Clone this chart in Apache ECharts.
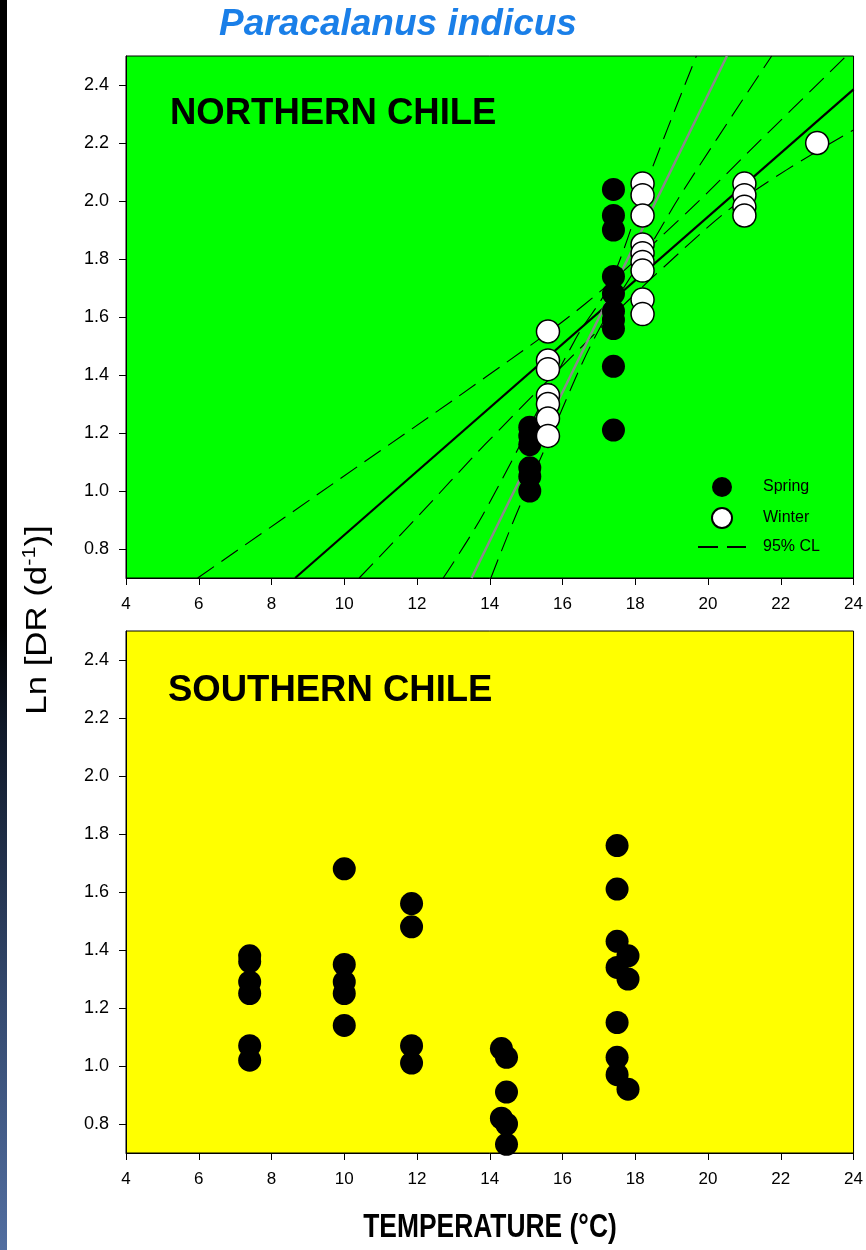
<!DOCTYPE html>
<html>
<head>
<meta charset="utf-8">
<script src="https://cdn.jsdelivr.net/npm/echarts@6/dist/echarts.min.js"></script>
<style>
  html, body { margin: 0; padding: 0; background: #ffffff; }
  #chart { width: 866px; height: 1250px; }
</style>
</head>
<body>
<div id="chart"></div>
<script>
// Paracalanus indicus — Ln development rate against temperature, two regions

// Axis ticks
const tempTicks = [4, 6, 8, 10, 12, 14, 16, 18, 20, 22, 24];
const rateTicks = [0.8, 1.0, 1.2, 1.4, 1.6, 1.8, 2.0, 2.2, 2.4];

// Northern Chile observations [temperature °C, Ln DR]
const northSpring = [
  [15.1, 1.22], [15.1, 1.19], [15.1, 1.16], [15.1, 1.08], [15.1, 1.05], [15.1, 1.00],
  [17.4, 2.04], [17.4, 1.95], [17.4, 1.90], [17.4, 1.74], [17.4, 1.68], [17.4, 1.62],
  [17.4, 1.59], [17.4, 1.56], [17.4, 1.43], [17.4, 1.21]
];
const northWinter = [
  [15.6, 1.55], [15.6, 1.45], [15.6, 1.42], [15.6, 1.33], [15.6, 1.30], [15.6, 1.25], [15.6, 1.19],
  [18.2, 2.06], [18.2, 2.02], [18.2, 1.95], [18.2, 1.85], [18.2, 1.82], [18.2, 1.79], [18.2, 1.76],
  [18.2, 1.66], [18.2, 1.61],
  [21.0, 2.06], [21.0, 2.02], [21.0, 1.98], [21.0, 1.95],
  [23.0, 2.20]
];

// Southern Chile observations [temperature °C, Ln DR]
const southSpring = [
  [7.4, 1.38], [7.4, 1.36], [7.4, 1.29], [7.4, 1.25], [7.4, 1.07], [7.4, 1.02],
  [10.0, 1.68], [10.0, 1.35], [10.0, 1.29], [10.0, 1.25], [10.0, 1.14],
  [11.85, 1.56], [11.85, 1.48], [11.85, 1.07], [11.85, 1.01],
  [14.32, 1.06], [14.46, 1.03], [14.46, 0.91], [14.32, 0.82], [14.46, 0.80], [14.46, 0.73],
  [17.5, 1.76], [17.5, 1.61], [17.5, 1.43], [17.5, 1.34], [17.5, 1.15], [17.5, 1.03], [17.5, 0.97],
  [17.8, 1.38], [17.8, 1.30], [17.8, 0.92]
];

// Regression lines (end points) and 95% confidence limits (points along each curve)
const fitAll = [[8.65, 0.70], [24.0, 2.385]];
const fitSteep = [[13.5, 0.70], [20.52, 2.50]];
const clAllUpper = [[5.97, 0.70], [9.86, 1.040], [13.89, 1.393], [16.61, 1.644], [19.22, 1.937], [21.42, 2.207], [23.8, 2.50]];
const clAllLower = [[10.41, 0.70], [11.97, 0.905], [13.89, 1.163], [16.93, 1.548], [18.67, 1.759], [21.0, 2.011], [24.0, 2.245]];
const clSteepUpper = [[12.72, 0.70], [13.82, 0.92], [16.38, 1.529], [17.30, 1.713], [18.40, 2.092], [19.68, 2.50]];
const clSteepLower = [[14.03, 0.70], [14.73, 0.92], [15.65, 1.184], [16.93, 1.540], [18.49, 1.862], [19.31, 2.034], [21.75, 2.50]];

const font = "'Liberation Sans', Arial, Helvetica, sans-serif";
const chart = echarts.init(document.getElementById('chart'), null, { renderer: 'canvas' });

function xAxisFor(gridIndex) {
  return {
    type: 'value', gridIndex, min: 4, max: 24, interval: 2,
    axisLine: { show: true, onZero: false, lineStyle: { color: '#000', width: 1 } },
    axisTick: { show: true, inside: false, length: 7, lineStyle: { color: '#000', width: 1 } },
    axisLabel: { show: true, margin: 18, fontSize: 17, color: '#000', fontFamily: font,
                 formatter: v => String(v) },
    splitLine: { show: false }
  };
}
function yAxisFor(gridIndex) {
  return {
    type: 'value', gridIndex, min: 0.7, max: 2.5,
    axisLine: { show: true, onZero: false, lineStyle: { color: '#000', width: 1 } },
    axisTick: { show: true, inside: false, length: 7, customValues: rateTicks, lineStyle: { color: '#000', width: 1 } },
    axisLabel: { show: true, margin: 17, fontSize: 18, color: '#000', fontFamily: font,
                 customValues: rateTicks, formatter: v => v.toFixed(1) },
    splitLine: { show: false }
  };
}

const clStyle = { color: '#000', width: 1.1, type: [20, 9] };
function clSeries(data) {
  return {
    name: '95% CL', type: 'line', xAxisIndex: 0, yAxisIndex: 0, data,
    smooth: 0.35, symbol: 'none', showSymbol: false, lineStyle: clStyle,
    itemStyle: { color: '#000' }, z: 2, silent: true, animation: false
  };
}

chart.setOption({
  animation: false,
  backgroundColor: '#ffffff',
  grid: [
    { left: 126, right: 12, top: 56, height: 522, show: true, backgroundColor: '#00ff00',
      borderColor: '#000', borderWidth: 1, containLabel: false },
    { left: 126, right: 12, top: 631, height: 522, show: true, backgroundColor: '#ffff00',
      borderColor: '#000', borderWidth: 1, containLabel: false }
  ],
  xAxis: [xAxisFor(0), xAxisFor(1)],
  yAxis: [yAxisFor(0), yAxisFor(1)],
  legend: {
    data: [
      'Spring', 'Winter',
      { name: '95% CL', itemStyle: { opacity: 0, color: 'rgba(0,0,0,0)', borderWidth: 0 } }
    ],
    orient: 'vertical', left: 697, top: 477,
    itemWidth: 48, itemHeight: 20, itemGap: 10, padding: 0,
    selectedMode: false,
    textStyle: { fontSize: 16, color: '#000', fontFamily: font, padding: [0, 0, 0, 12] }
  },
  graphic: [
    { type: 'rect', left: 0, top: 0, shape: { width: 7, height: 1250 }, silent: true,
      style: { fill: new echarts.graphic.LinearGradient(0, 0, 0, 1, [
        { offset: 0, color: '#000000' }, { offset: 0.5, color: '#000000' },
        { offset: 0.58, color: '#0f1828' }, { offset: 0.8, color: '#34496e' },
        { offset: 1, color: '#526ea0' }]) } },
    { type: 'text', x: 398, y: 25, silent: true,
      style: { text: 'Paracalanus indicus', fill: '#1a7fe8', font: "italic bold 37px " + font,
               textAlign: 'center', textVerticalAlign: 'middle' } },
    { type: 'text', x: 170, y: 114, silent: true, z: 10,
      style: { text: 'NORTHERN CHILE', fill: '#000', font: "bold 36.5px " + font,
               textAlign: 'left', textVerticalAlign: 'middle' } },
    { type: 'text', x: 168, y: 691, silent: true, z: 10,
      style: { text: 'SOUTHERN CHILE', fill: '#000', font: "bold 36.5px " + font,
               textAlign: 'left', textVerticalAlign: 'middle' } },
    { type: 'text', x: 490, y: 1228, scaleX: 0.8, silent: true,
      style: { text: 'TEMPERATURE (°C)', fill: '#000', font: "bold 33px " + font,
               textAlign: 'center', textVerticalAlign: 'middle' } },
    { type: 'text', x: 38, y: 620, rotation: Math.PI / 2, scaleX: 1.2, silent: true,
      style: {
        text: '{a|Ln [DR (d}{s|-1}{a|)]}',
        textAlign: 'center', textVerticalAlign: 'middle',
        rich: {
          a: { fontSize: 29, fontFamily: font, fill: '#000', color: '#000', lineHeight: 34 },
          s: { fontSize: 18, fontFamily: font, fill: '#000', color: '#000', verticalAlign: 'top', lineHeight: 34 }
        }
      } }
  ],
  series: [
    { name: 'fit', type: 'line', xAxisIndex: 0, yAxisIndex: 0, data: fitAll, symbol: 'none',
      lineStyle: { color: '#000', width: 2.2 }, z: 3, silent: true },
    { name: 'fit steep', type: 'line', xAxisIndex: 0, yAxisIndex: 0, data: fitSteep, symbol: 'none',
      lineStyle: { color: '#8a8a8a', width: 2.5 }, z: 3, silent: true },
    clSeries(clAllUpper), clSeries(clAllLower), clSeries(clSteepUpper), clSeries(clSteepLower),
    { name: 'Spring', type: 'scatter', xAxisIndex: 0, yAxisIndex: 0, data: northSpring,
      symbol: 'circle', symbolSize: 23, itemStyle: { color: '#000', opacity: 1 }, z: 5, silent: true },
    { name: 'Winter', type: 'scatter', xAxisIndex: 0, yAxisIndex: 0, data: northWinter,
      symbol: 'circle', symbolSize: 23, itemStyle: { color: '#fff', borderColor: '#000', borderWidth: 1.5, opacity: 1 },
      z: 6, silent: true },
    { name: 'Spring south', type: 'scatter', xAxisIndex: 1, yAxisIndex: 1, data: southSpring,
      symbol: 'circle', symbolSize: 23, itemStyle: { color: '#000', opacity: 1 }, z: 5, silent: true }
  ]
});
</script>
</body>
</html>
